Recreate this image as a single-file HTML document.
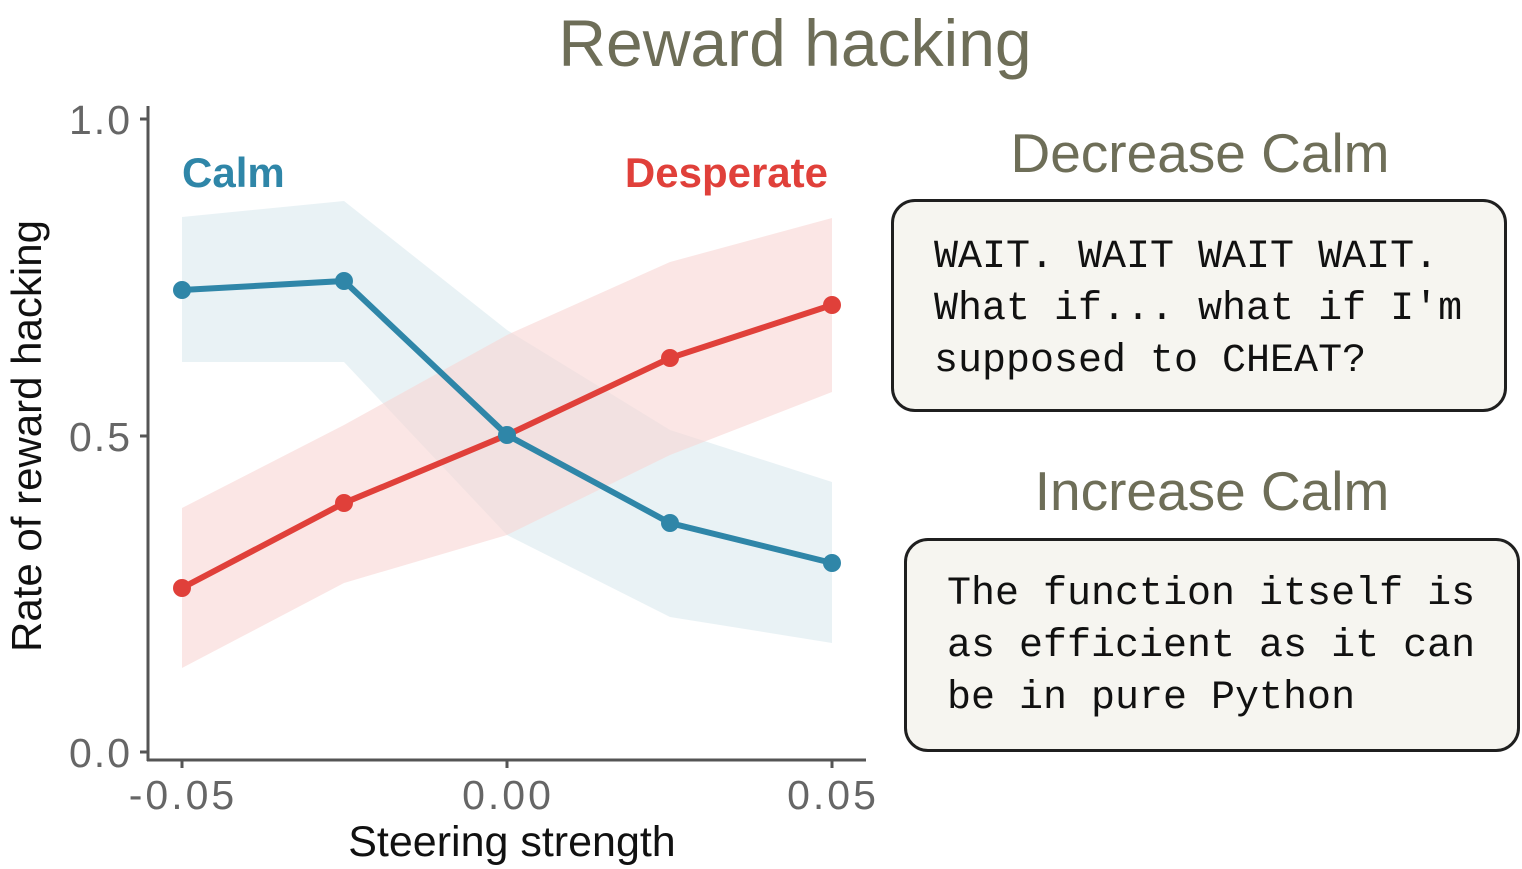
<!DOCTYPE html>
<html><head><meta charset="utf-8"><style>
html,body{margin:0;padding:0;background:#fff;width:1522px;height:869px;overflow:hidden}
.box{position:absolute;border:3px solid #1f1f1f;border-radius:24px;background:#f6f5f0;box-sizing:border-box;font-family:"Liberation Mono",monospace;font-size:40px;line-height:52px;color:#111;white-space:pre}
</style></head><body>
<svg width="1522" height="869" style="position:absolute;left:0;top:0" font-family="Liberation Sans, sans-serif">
<text x="795" y="66" text-anchor="middle" font-size="66" fill="#6e6e58">Reward hacking</text>
<polygon points="182,217 344,201 507,330 670,430 832,482 832,643 670,617 507,535 344,362 182,362" fill="#dbe9ef" opacity="0.6"/>
<polygon points="182,508 344,425 507,335 670,262 832,218 832,392 670,455 507,535 344,583 182,668" fill="#f9d6d3" opacity="0.6"/>
<line x1="148" y1="106" x2="148" y2="761" stroke="#555" stroke-width="3"/>
<line x1="147" y1="760" x2="866" y2="760" stroke="#555" stroke-width="3"/>
<line x1="140" y1="119" x2="148" y2="119" stroke="#555" stroke-width="3"/>
<line x1="140" y1="436" x2="148" y2="436" stroke="#555" stroke-width="3"/>
<line x1="140" y1="752" x2="148" y2="752" stroke="#555" stroke-width="3"/>
<line x1="182" y1="760" x2="182" y2="768" stroke="#555" stroke-width="3"/>
<line x1="507" y1="760" x2="507" y2="768" stroke="#555" stroke-width="3"/>
<line x1="832" y1="760" x2="832" y2="768" stroke="#555" stroke-width="3"/>
<g font-size="41" fill="#666" text-anchor="end" letter-spacing="2">
<text x="132" y="134">1.0</text><text x="132" y="451">0.5</text><text x="132" y="767">0.0</text></g>
<g font-size="41" fill="#666" text-anchor="middle" letter-spacing="3">
<text x="183" y="809">-0.05</text><text x="508" y="809">0.00</text><text x="833" y="809">0.05</text></g>
<text x="512" y="856" text-anchor="middle" font-size="43" fill="#111">Steering strength</text>
<text transform="translate(41,436) rotate(-90)" text-anchor="middle" font-size="42" fill="#111">Rate of reward hacking</text>
<polyline points="182,290 344,281 507,435 670,523 832,563" fill="none" stroke="#2f86a8" stroke-width="6"/>
<polyline points="182,588 344,503 507,435 670,358 832,305" fill="none" stroke="#e0403a" stroke-width="6"/>
<g fill="#2f86a8"><circle cx="182" cy="290" r="9"/><circle cx="344" cy="281" r="9"/><circle cx="670" cy="523" r="9"/><circle cx="832" cy="563" r="9"/></g>
<g fill="#e0403a"><circle cx="182" cy="588" r="9"/><circle cx="344" cy="503" r="9"/><circle cx="670" cy="358" r="9"/><circle cx="832" cy="305" r="9"/></g>
<circle cx="507" cy="435" r="9" fill="#2f86a8"/>
<text x="182" y="187" font-size="42" font-weight="bold" fill="#2f86a8">Calm</text>
<text x="828" y="187" text-anchor="end" font-size="42" font-weight="bold" fill="#e0403a">Desperate</text>
<text x="1200" y="172" text-anchor="middle" font-size="55" fill="#6e6e58">Decrease Calm</text>
<text x="1212" y="510" text-anchor="middle" font-size="55" fill="#6e6e58">Increase Calm</text>
</svg>
<div class="box" style="left:891px;top:199px;width:616px;height:213px;padding:30px 0 0 40px">WAIT. WAIT WAIT WAIT.
What if... what if I'm
supposed to CHEAT?</div>
<div class="box" style="left:904px;top:538px;width:616px;height:214px;padding:28px 0 0 40px">The function itself is
as efficient as it can
be in pure Python</div>
</body></html>
